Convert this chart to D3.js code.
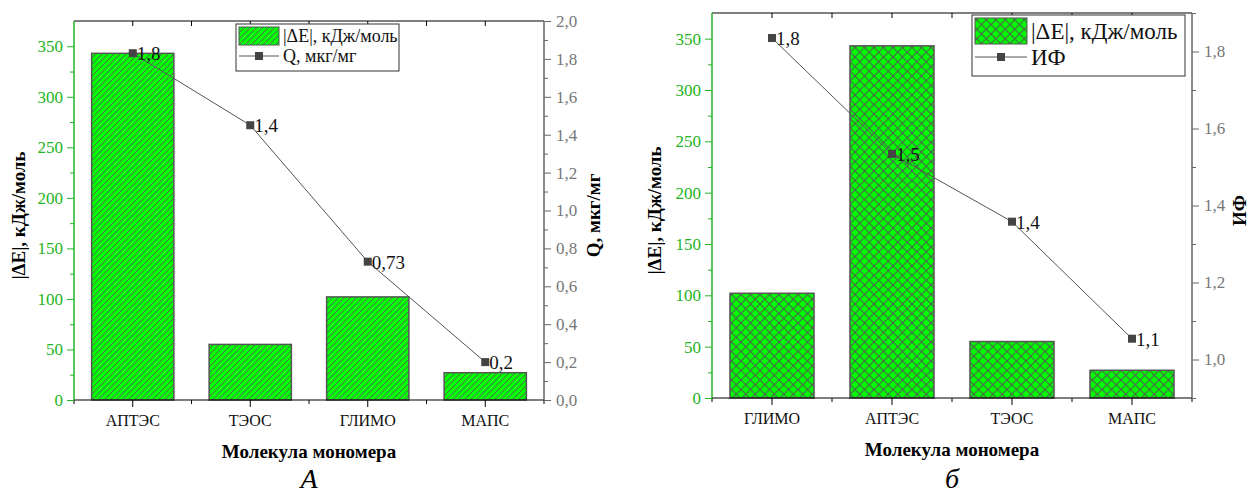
<!DOCTYPE html>
<html>
<head>
<meta charset="utf-8">
<script src="https://cdn.jsdelivr.net/npm/d3@7"></script>
<style>
  body { margin: 0; background: #fff; }
  svg text { font-family: "Liberation Serif", "Times New Roman", Times, serif !important; }
</style>
</head>
<body>
<svg id="chart" width="1250" height="497"></svg>
<script>
// panel A
var catsA = ["АПТЭС", "ТЭОС", "ГЛИМО", "МАПС"];
var energyA = [343, 55, 102, 27];
var qA = [1.83, 1.45, 0.73, 0.2];
var qLabelsA = ["1,8", "1,4", "0,73", "0,2"];
var rightTicksA = [0, 0.2, 0.4, 0.6, 0.8, 1.0, 1.2, 1.4, 1.6, 1.8, 2.0];

// panel б
var catsB = ["ГЛИМО", "АПТЭС", "ТЭОС", "МАПС"];
var energyB = [102, 343, 55, 27];
var ifB = [1.835, 1.534, 1.358, 1.054];
var ifLabelsB = ["1,8", "1,5", "1,4", "1,1"];
var rightTicksB = [1.0, 1.2, 1.4, 1.6, 1.8];

var leftTicks = [0, 50, 100, 150, 200, 250, 300, 350];

var GREEN_AXIS = "#22b422", GRAY = "#666", FILL = "#00ff00", HATCH = "#555";
var SERIF = "Liberation Serif";
var fmt = function (d) { return d3.format(".1f")(d).replace(".", ","); };

var svg = d3.select("#chart");
var defs = svg.append("defs");

// diagonal hatch
var p1 = defs.append("pattern").attr("id", "diag").attr("patternUnits", "userSpaceOnUse")
    .attr("width", 6).attr("height", 6);
p1.append("rect").attr("width", 6).attr("height", 6).attr("fill", FILL);
p1.append("path").attr("d", "M-1,1 l2,-2 M0,6 l6,-6 M5,7 l2,-2")
    .attr("stroke", HATCH).attr("stroke-width", 0.9);

// cross hatch
var p2 = defs.append("pattern").attr("id", "cross").attr("patternUnits", "userSpaceOnUse")
    .attr("width", 9.5).attr("height", 9.5);
p2.append("rect").attr("width", 9.5).attr("height", 9.5).attr("fill", FILL);
p2.append("path").attr("d", "M0,0 L9.5,9.5 M9.5,0 L0,9.5")
    .attr("stroke", HATCH).attr("stroke-width", 1.1);

function panel(o) {
  var g = svg.append("g").attr("font-family", SERIF);
  var x = d3.scaleBand().domain(o.cats).range([o.x0, o.x1]).paddingInner(0.3).paddingOuter(0.15);
  var xc = d3.scaleBand().domain(o.cats).range([o.x0, o.x1]);
  var yL = d3.scaleLinear().domain([0, 375]).range([o.y1, o.y0]);
  var yR = d3.scaleLinear().domain(o.rDomain).range([o.y1, o.y0]);

  // bars
  g.selectAll(".bar").data(o.energy).enter().append("rect")
    .attr("x", function (d, i) { return x(o.cats[i]); })
    .attr("width", x.bandwidth())
    .attr("y", function (d) { return yL(d); })
    .attr("height", function (d) { return yL(0) - yL(d); })
    .attr("fill", "url(#" + o.pattern + ")")
    .attr("stroke", HATCH).attr("stroke-width", 1.5);

  // top axis line with inward ticks
  g.append("line").attr("x1", o.x0).attr("x2", o.x1).attr("y1", o.y0).attr("y2", o.y0)
    .attr("stroke", "#000").attr("stroke-width", 1.2);
  var topTicks = [];
  o.cats.forEach(function (c, i) { topTicks.push(xc(c) + xc.bandwidth() / 2); if (i > 0) topTicks.push(xc(c)); });
  g.selectAll(".tt").data(topTicks).enter().append("line")
    .attr("x1", function (d) { return d; }).attr("x2", function (d) { return d; })
    .attr("y1", o.y0).attr("y2", o.y0 + 5).attr("stroke", "#000");

  // bottom axis
  g.append("line").attr("x1", o.x0).attr("x2", o.x1).attr("y1", o.y1).attr("y2", o.y1)
    .attr("stroke", "#000").attr("stroke-width", 1.2);
  g.selectAll(".bt").data(o.cats).enter().append("line")
    .attr("x1", function (d) { return xc(d) + xc.bandwidth() / 2; })
    .attr("x2", function (d) { return xc(d) + xc.bandwidth() / 2; })
    .attr("y1", o.y1).attr("y2", o.y1 + 7).attr("stroke", "#000");
  g.selectAll(".bm").data(o.cats.concat(["end"])).enter().append("line")
    .attr("x1", function (d, i) { return i < o.cats.length ? xc(d) : o.x1; })
    .attr("x2", function (d, i) { return i < o.cats.length ? xc(d) : o.x1; })
    .attr("y1", o.y1).attr("y2", o.y1 + 4).attr("stroke", "#000");
  g.selectAll(".bl").data(o.cats).enter().append("text")
    .attr("x", function (d) { return xc(d) + xc.bandwidth() / 2; })
    .attr("y", o.y1 + 26).attr("text-anchor", "middle")
    .attr("font-size", 16).attr("fill", "#111").text(function (d) { return d; });

  // left axis
  var la = g.append("g").attr("transform", "translate(" + o.x0 + ",0)")
    .call(d3.axisLeft(yL).tickValues(leftTicks).tickSize(7).tickPadding(4).tickSizeOuter(0));
  la.attr("font-family", SERIF);
  la.select(".domain").attr("stroke", GREEN_AXIS).attr("stroke-width", 1.5)
    .attr("d", "M0," + o.y1 + "V" + o.y0);
  la.selectAll(".tick line").attr("stroke", GREEN_AXIS);
  la.selectAll(".tick text").attr("fill", GREEN_AXIS).attr("font-size", 17);
  g.append("g").attr("transform", "translate(" + o.x0 + ",0)")
    .call(d3.axisLeft(yL).tickValues(d3.range(25, 375, 50)).tickSize(4).tickFormat(""))
    .call(function (s) { s.select(".domain").remove(); s.selectAll("line").attr("stroke", GREEN_AXIS); });

  // right axis
  var ra = g.append("g").attr("transform", "translate(" + o.x1 + ",0)")
    .call(d3.axisRight(yR).tickValues(o.rTicks).tickSize(7).tickPadding(5).tickFormat(fmt).tickSizeOuter(0));
  ra.attr("font-family", SERIF);
  ra.select(".domain").attr("stroke", GRAY).attr("stroke-width", 1.5)
    .attr("d", "M0," + o.y1 + "V" + o.y0);
  ra.selectAll(".tick line").attr("stroke", GRAY);
  ra.selectAll(".tick text").attr("fill", "#777").attr("font-size", 17);
  g.append("g").attr("transform", "translate(" + o.x1 + ",0)")
    .call(d3.axisRight(yR).tickValues(o.rMinor).tickSize(4).tickFormat(""))
    .call(function (s) { s.select(".domain").remove(); s.selectAll("line").attr("stroke", GRAY); });

  // line + markers
  var pts = o.line.map(function (v, i) { return [xc(o.cats[i]) + xc.bandwidth() / 2, yR(v)]; });
  g.append("path").attr("d", d3.line()(pts)).attr("fill", "none")
    .attr("stroke", "#555").attr("stroke-width", 1);
  g.selectAll(".mk").data(pts).enter().append("rect")
    .attr("x", function (d) { return d[0] - 4; }).attr("y", function (d) { return d[1] - 4; })
    .attr("width", 8).attr("height", 8).attr("fill", "#444");
  g.selectAll(".pl").data(pts).enter().append("text")
    .attr("x", function (d) { return d[0] + 4; }).attr("y", function (d) { return d[1] + 7; })
    .attr("font-size", 19).attr("fill", "#111")
    .text(function (d, i) { return o.lineLabels[i]; });

  // axis titles
  var cy = (o.y0 + o.y1) / 2 + 5;
  g.append("text").attr("transform", "translate(" + o.lTitleX + "," + cy + ") rotate(-90)")
    .attr("text-anchor", "middle").attr("font-size", 19).attr("font-weight", "bold")
    .text("|ΔE|, кДж/моль");
  g.append("text").attr("transform", "translate(" + o.rTitleX + "," + cy + ") rotate(-90)")
    .attr("text-anchor", "middle").attr("font-size", 19).attr("font-weight", "bold")
    .text(o.rTitle);
  g.append("text").attr("x", (o.x0 + o.x1) / 2).attr("y", o.y1 + 58)
    .attr("text-anchor", "middle").attr("font-size", 19).attr("font-weight", "bold")
    .text("Молекула мономера");
  g.append("text").attr("x", (o.x0 + o.x1) / 2).attr("y", 488)
    .attr("text-anchor", "middle").attr("font-size", 28).attr("font-style", "italic")
    .text(o.caption);

  // legend
  var L = o.legend;
  var lg = g.append("g").attr("transform", "translate(" + L.x + "," + L.y + ")");
  lg.append("rect").attr("width", L.w).attr("height", L.h).attr("fill", "#fff")
    .attr("stroke", "#333").attr("stroke-width", 1);
  lg.append("rect").attr("x", 3).attr("y", 3).attr("width", L.sw).attr("height", L.sh)
    .attr("fill", "url(#" + o.pattern + ")").attr("stroke", HATCH).attr("stroke-width", 1);
  lg.append("text").attr("x", L.sw + 7).attr("y", 3 + L.sh / 2 + L.fs * 0.33)
    .attr("font-size", L.fs).attr("fill", "#111").text("|ΔE|, кДж/моль");
  var ly = L.h - L.sh / 2 - 6;
  lg.append("line").attr("x1", 3).attr("x2", L.sw + 3).attr("y1", ly).attr("y2", ly)
    .attr("stroke", "#555");
  lg.append("rect").attr("x", 3 + L.sw / 2 - 4).attr("y", ly - 4).attr("width", 8).attr("height", 8)
    .attr("fill", "#444");
  lg.append("text").attr("x", L.sw + 7).attr("y", ly + L.fs * 0.33)
    .attr("font-size", L.fs).attr("fill", "#111").text(o.lineName);
}

panel({
  cats: catsA, energy: energyA, line: qA, lineLabels: qLabelsA,
  x0: 74, x1: 544, y0: 21, y1: 400,
  rDomain: [0, 2], rTicks: rightTicksA, rMinor: d3.range(0.1, 2, 0.2),
  pattern: "diag", rTitle: "Q, мкг/мг", lineName: "Q, мкг/мг",
  lTitleX: 25, rTitleX: 600, caption: "А",
  legend: { x: 236, y: 24, w: 163, h: 47, sw: 40, sh: 18, fs: 18 }
});

panel({
  cats: catsB, energy: energyB, line: ifB, lineLabels: ifLabelsB,
  x0: 712, x1: 1192, y0: 13, y1: 398,
  rDomain: [0.9, 1.9], rTicks: rightTicksB, rMinor: [0.9, 1.1, 1.3, 1.5, 1.7, 1.9],
  pattern: "cross", rTitle: "ИФ", lineName: "ИФ",
  lTitleX: 661, rTitleX: 1246, caption: "б",
  legend: { x: 972, y: 15, w: 213, h: 61, sw: 52, sh: 26, fs: 23 }
});
</script>
</body>
</html>
